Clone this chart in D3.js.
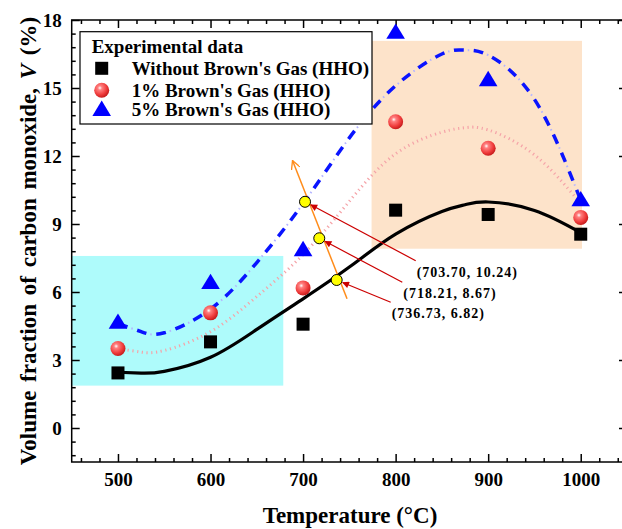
<!DOCTYPE html>
<html lang="en">
  <head>
    <meta charset="UTF-8" />
    <title>CO volume fraction vs temperature</title>
    <style>
      body {
        margin: 0;
        background: #fff;
      }
      svg text {
        font-family: "Liberation Serif", "Times New Roman", serif;
        font-weight: bold;
      }
      .tick line {
        stroke: #000;
        stroke-width: 1.5;
      }
      .domain {
        display: none;
      }
    </style>
  </head>
  <body>
    <div id="container"></div>
  </body>
  <script src="https://cdnjs.cloudflare.com/ajax/libs/d3/7.8.5/d3.min.js"></script>
  <script>
    // measured points
    let temps = [500, 600, 700, 800, 900, 1000];
    let withoutHHO = [2.43, 3.8, 4.58, 9.61, 9.42, 8.55];
    let hho1 = [3.51, 5.08, 6.18, 13.51, 12.34, 9.29];
    let hho5 = [4.65, 6.4, 7.85, 17.44, 15.35, 10.05];

    // fitted curves
    let fitT = [500, 525, 550, 600, 650, 700, 750, 800, 850, 875, 900, 950, 1000];
    let fitWithout = [2.46, 2.42, 2.5, 3.12, 4.35, 5.7, 7.1, 8.55, 9.55, 9.85, 9.97, 9.6, 8.62];
    let fit1 = [3.5, 3.35, 3.42, 4.25, 5.8, 7.65, 10.0, 12.1, 13.05, 13.25, 13.15, 12.05, 9.9];
    let fit5 = [4.6, 4.25, 4.2, 5.25, 7.3, 9.9, 12.8, 15.1, 16.5, 16.67, 16.45, 14.5, 10.05];

    // crossings on the orange line (as drawn) and their printed values
    let crossT = [702.1, 717.5, 736.3];
    let crossV = [9.98, 8.37, 6.53];
    let crossLabels = ["(703.70, 10.24)", "(718.21, 8.67)", "(736.73, 6.82)"];
    let orangeT = [747.5, 688.6];
    let orangeV = [5.7, 11.8];

    // shaded regions
    let lowT = [450, 678.6];
    let lowV = [1.87, 7.59];
    let highT = [774, 1001.4];
    let highV = [7.91, 17.08];

    let xMajor = [500, 600, 700, 800, 900, 1000];
    let yMajor = [0, 3, 6, 9, 12, 15, 18];

    let legendNames = [
      "Without Brown's Gas (HHO)",
      "1% Brown's Gas (HHO)",
      "5% Brown's Gas (HHO)",
    ];

    let width = 622,
      height = 529;

    let x = d3.scaleLinear().domain([450, 1050]).range([71.7, 627]);
    let y = d3.scaleLinear().domain([-1.5, 18]).range([462, 20]);

    let svg = d3
      .select("#container")
      .append("svg")
      .attr("width", width)
      .attr("height", height);

    let defs = svg.append("defs");
    let grad = defs
      .append("radialGradient")
      .attr("id", "ball")
      .attr("cx", "38%")
      .attr("cy", "35%")
      .attr("r", "65%");
    grad.append("stop").attr("offset", "0%").attr("stop-color", "#ffffff");
    grad.append("stop").attr("offset", "22%").attr("stop-color", "#ff8080");
    grad.append("stop").attr("offset", "70%").attr("stop-color", "#ef3b3b");
    grad.append("stop").attr("offset", "100%").attr("stop-color", "#c81e1e");

    defs
      .append("marker")
      .attr("id", "redhead")
      .attr("viewBox", "0 0 10 10")
      .attr("refX", 9)
      .attr("refY", 5)
      .attr("markerWidth", 10)
      .attr("markerHeight", 7)
      .attr("markerUnits", "userSpaceOnUse")
      .attr("orient", "auto")
      .append("path")
      .attr("d", "M0,0 L10,5 L0,10 Z")
      .attr("fill", "#cc0000");

    defs
      .append("marker")
      .attr("id", "orangehead")
      .attr("viewBox", "0 0 10 10")
      .attr("refX", 9.5)
      .attr("refY", 5)
      .attr("markerWidth", 10)
      .attr("markerHeight", 9)
      .attr("markerUnits", "userSpaceOnUse")
      .attr("orient", "auto")
      .append("path")
      .attr("d", "M0,0 L9.5,5 L0,10")
      .attr("fill", "none")
      .attr("stroke", "#ff8c1a")
      .attr("stroke-width", 1.5);

    // shaded regions
    svg
      .append("rect")
      .attr("x", x(lowT[0]))
      .attr("y", y(lowV[1]))
      .attr("width", x(lowT[1]) - x(lowT[0]))
      .attr("height", y(lowV[0]) - y(lowV[1]))
      .attr("fill", "#aefbfb");
    svg
      .append("rect")
      .attr("x", x(highT[0]))
      .attr("y", y(highV[1]))
      .attr("width", x(highT[1]) - x(highT[0]))
      .attr("height", y(highV[0]) - y(highV[1]))
      .attr("fill", "#fde3ca");

    // axes, ticks inward on all sides
    let xMinor = d3.range(460, 1050, 20).filter((d) => d % 100 != 0);
    let yMinor = d3.range(-1.2, 18, 0.6).filter((d) => Math.abs(d / 3 - Math.round(d / 3)) > 0.01);

    svg
      .append("g")
      .attr("transform", `translate(0,${y(-1.5)})`)
      .call(d3.axisBottom(x).tickValues(xMajor).tickSize(-8).tickPadding(11).tickFormat(d3.format("d")))
      .call((g) => g.selectAll("text").style("font-size", "19px").attr("fill", "#000"));
    svg
      .append("g")
      .attr("transform", `translate(0,${y(-1.5)})`)
      .call(d3.axisBottom(x).tickValues(xMinor).tickSize(-4).tickFormat(""));
    svg
      .append("g")
      .attr("transform", `translate(0,${y(18)})`)
      .call(d3.axisTop(x).tickValues(xMajor).tickSize(-8).tickFormat(""));
    svg
      .append("g")
      .attr("transform", `translate(0,${y(18)})`)
      .call(d3.axisTop(x).tickValues(xMinor).tickSize(-4).tickFormat(""));

    svg
      .append("g")
      .attr("transform", `translate(${x(450)},0)`)
      .call(d3.axisLeft(y).tickValues(yMajor).tickSize(-8).tickPadding(10))
      .call((g) => g.selectAll("text").style("font-size", "19px").attr("fill", "#000"));
    svg
      .append("g")
      .attr("transform", `translate(${x(450)},0)`)
      .call(d3.axisLeft(y).tickValues(yMinor).tickSize(-4).tickFormat(""));
    svg
      .append("g")
      .attr("transform", `translate(${x(1050)},0)`)
      .call(d3.axisRight(y).tickValues(yMajor).tickSize(-8).tickFormat(""));
    svg
      .append("g")
      .attr("transform", `translate(${x(1050)},0)`)
      .call(d3.axisRight(y).tickValues(yMinor).tickSize(-4).tickFormat(""));

    svg
      .append("rect")
      .attr("x", x(450))
      .attr("y", y(18))
      .attr("width", x(1050) - x(450))
      .attr("height", y(-1.5) - y(18))
      .attr("fill", "none")
      .attr("stroke", "#000")
      .attr("stroke-width", 1.5);

    // fitted curves
    let fitLine = (vals) =>
      d3
        .line()
        .x((d, i) => x(fitT[i]))
        .y((d) => y(d))
        .curve(d3.curveNatural)(vals);

    svg
      .append("path")
      .attr("d", fitLine(fit1))
      .attr("fill", "none")
      .attr("stroke", "#f5a3a8")
      .attr("stroke-width", 3)
      .attr("stroke-dasharray", "1.2,3.6");

    svg
      .append("path")
      .attr("d", fitLine(fit5))
      .attr("fill", "none")
      .attr("stroke", "#0a14ff")
      .attr("stroke-width", 3.5)
      .attr("stroke-dasharray", "10,10");
    svg
      .append("path")
      .attr("d", fitLine(fit5))
      .attr("fill", "none")
      .attr("stroke", "#b4b4ff")
      .attr("stroke-width", 2)
      .attr("stroke-dasharray", "0,14,1.5,4.5");

    svg
      .append("path")
      .attr("d", fitLine(fitWithout))
      .attr("fill", "none")
      .attr("stroke", "#000")
      .attr("stroke-width", 3.2);

    // markers
    let tri = d3.symbol().type(d3.symbolTriangle).size(150);
    let drawSquare = (g, cx, cy) =>
      g
        .append("rect")
        .attr("x", cx - 6.5)
        .attr("y", cy - 6.5)
        .attr("width", 13)
        .attr("height", 13)
        .attr("fill", "#000");
    let drawBall = (g, cx, cy) =>
      g.append("circle").attr("cx", cx).attr("cy", cy).attr("r", 7.5).attr("fill", "url(#ball)");
    let drawTri = (g, cx, cy) =>
      g
        .append("path")
        .attr("d", tri())
        .attr("transform", `translate(${cx},${cy + 1}) scale(1,0.95)`)
        .attr("fill", "#0000ff");

    let pts = svg.append("g");
    temps.forEach((t, i) => {
      drawSquare(pts, x(t), y(withoutHHO[i]));
      drawBall(pts, x(t), y(hho1[i]));
      drawTri(pts, x(t), y(hho5[i]));
    });

    // orange line through the crossings
    svg
      .append("line")
      .attr("x1", x(orangeT[0]))
      .attr("y1", y(orangeV[0]))
      .attr("x2", x(orangeT[1]))
      .attr("y2", y(orangeV[1]))
      .attr("stroke", "#ff8c1a")
      .attr("stroke-width", 1.5)
      .attr("marker-end", "url(#orangehead)");

    // red arrows and labels
    let labelX = [416.7, 403.3, 391.7];
    let labelY = [271.7, 293.3, 313.3];
    crossT.forEach((t, i) => {
      let px = x(t),
        py = y(crossV[i]);
      let tx = labelX[i] - 1,
        ty = labelY[i] - 11;
      let dx = px - tx,
        dy = py - ty,
        len = Math.sqrt(dx * dx + dy * dy);
      let ex = px - (dx / len) * 6.5,
        ey = py - (dy / len) * 6.5;
      svg
        .append("line")
        .attr("x1", tx)
        .attr("y1", ty)
        .attr("x2", ex)
        .attr("y2", ey)
        .attr("stroke", "#cc0000")
        .attr("stroke-width", 1.2)
        .attr("marker-end", "url(#redhead)");
      svg
        .append("text")
        .attr("x", labelX[i])
        .attr("y", labelY[i])
        .attr("dy", "0.35em")
        .style("font-size", "14px")
        .style("letter-spacing", "1px")
        .text(crossLabels[i]);
    });

    svg
      .selectAll(".cross")
      .data(crossT)
      .join("circle")
      .attr("class", "cross")
      .attr("cx", (d) => x(d))
      .attr("cy", (d, i) => y(crossV[i]))
      .attr("r", 5.5)
      .attr("fill", "#ffff00")
      .attr("stroke", "#000")
      .attr("stroke-width", 1);

    // legend
    let lg = svg.append("g");
    lg.append("rect")
      .attr("x", 80)
      .attr("y", 31.7)
      .attr("width", 292)
      .attr("height", 92.3)
      .attr("fill", "#fff")
      .attr("stroke", "#000")
      .attr("stroke-width", 1.2);
    lg.append("text").attr("x", 91.7).attr("y", 53).style("font-size", "19px").text("Experimental data");
    let rowY = [68.3, 90.2, 109.8];
    legendNames.forEach((name, i) => {
      if (i == 0) drawSquare(lg, 101.7, rowY[i]);
      if (i == 1) drawBall(lg, 101.7, rowY[i]);
      if (i == 2) drawTri(lg, 101.7, rowY[i]);
      lg.append("text")
        .attr("x", 131.7)
        .attr("y", rowY[i])
        .attr("dy", "0.35em")
        .style("font-size", "19px")
        .text(name);
    });

    // axis titles
    svg
      .append("text")
      .attr("x", 350)
      .attr("y", 523)
      .attr("text-anchor", "middle")
      .style("font-size", "23px")
      .text("Temperature (°C)");

    let yt = svg
      .append("text")
      .attr("transform", "translate(36,241) rotate(-90)")
      .attr("text-anchor", "middle")
      .style("font-size", "23px")
      .style("word-spacing", "3px");
    yt.append("tspan").text("Volume fraction of carbon monoxide, ");
    yt.append("tspan").style("font-style", "italic").text("V");
    yt.append("tspan").text(" (%)");
  </script>
</html>
